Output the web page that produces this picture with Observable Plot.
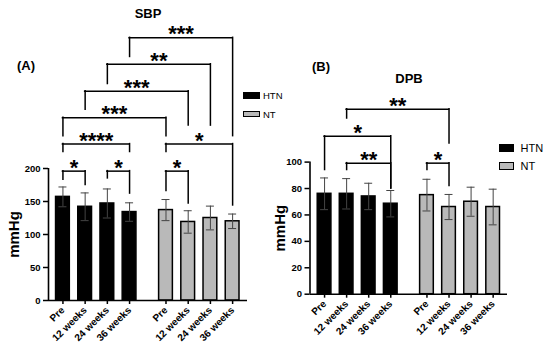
<!DOCTYPE html>
<html><head><meta charset="utf-8">
<script src="https://cdn.jsdelivr.net/npm/d3@7"></script>
<script src="https://cdn.jsdelivr.net/npm/@observablehq/plot@0.6"></script>
<style>
body{margin:0;background:#fff;}
#wrap{position:relative;width:550px;height:357px;overflow:hidden;background:#fff;font-family:"Liberation Sans",Arial,sans-serif;color:#000;}
.abs{position:absolute;white-space:nowrap;line-height:1;color:#000;}
.panel{position:absolute;top:0;}
.lg{position:absolute;display:flex;align-items:center;white-space:nowrap;color:#000;}
.sw{box-sizing:border-box;border:1.5px solid #000;display:inline-block;}
</style></head><body><div id="wrap"></div>
<script>
// ---- data ----
const timepoints = ["Pre", "12 weeks", "24 weeks", "36 weeks"];
const groups = ["HTN", "NT"];
const sbpHTN = [157, 142, 147, 134];
const sbpHTNsd = [15, 21, 22, 14];
const sbpNT = [137, 119, 125, 120];
const sbpNTsd = [16, 17, 18, 11];
const dbpHTN = [76, 76, 74, 68.5];
const dbpHTNsd = [12, 11.5, 10, 10];
const dbpNT = [75, 66, 70, 66];
const dbpNTsd = [12, 9.5, 11, 13.5];
const sbpTicks = [0, 50, 100, 150, 200];
const dbpTicks = [0, 20, 40, 60, 80, 100];
// significance brackets: [groupA, timeA, groupB, timeB, bracket level, leg end A, leg end B, label]
const sbpSig = [
  ["HTN", 0, "HTN", 1, 196, 183, 175, "*"],
  ["HTN", 2, "HTN", 3, 196, 185, 162, "*"],
  ["NT", 0, "NT", 1, 196, 166, 147, "*"],
  ["HTN", 0, "HTN", 3, 237, 225, 225, "****"],
  ["NT", 0, "NT", 3, 237, 225, 144, "*"],
  ["HTN", 0, "NT", 0, 277, 249, 249, "***"],
  ["HTN", 1, "NT", 1, 317, 289, 265, "***"],
  ["HTN", 2, "NT", 2, 358, 328, 265, "**"],
  ["HTN", 3, "NT", 3, 398, 369, 249, "***"]
];
const dbpSig = [
  ["HTN", 1, "NT", 1, 140, 133, 114, "**"],
  ["HTN", 0, "HTN", 3, 119.5, 94, 80, "*"],
  ["HTN", 1, "HTN", 3, 99.2, 94, 80, "**"],
  ["NT", 0, "NT", 1, 99.2, 94, 82, "*"]
];
const colors = {HTN: "#000000", NT: "#b9b9b9"};

// ---- layout helpers ----
const GAP = 4.64;
const pos = (g, i) => i + (g === "NT" ? GAP : 0);
const BW = 0.31, CW = 0.18;

function rowsOf(h, hs, n, ns) {
  const r = [];
  groups.forEach((g, gi) => timepoints.forEach((t, i) => {
    const m = gi === 0 ? h[i] : n[i], s = gi === 0 ? hs[i] : ns[i];
    r.push({group: g, time: t, mean: m, sd: s, pos: pos(g, i)});
  }));
  return r;
}
function sigOf(arr) {
  return arr.map(([ga, ia, gb, ib, y, ya, yb, label]) => ({xa: pos(ga, ia), xb: pos(gb, ib), y, ya, yb, label}));
}

function panel(o) {
  const rows = rowsOf(...o.vals);
  const sig = sigOf(o.sig);
  const [xmin, xmax] = o.xdom;
  const ymax = o.ticks[o.ticks.length - 1];
  const tickPos = rows.map(d => d.pos);
  const labelAt = new Map(rows.map(d => [d.pos, d.time]));
  return Plot.plot({
    width: o.width, height: 357,
    marginLeft: o.ml, marginRight: o.mr, marginTop: o.mt, marginBottom: o.mb,
    x: {type: "linear", domain: [xmin, xmax]},
    y: {domain: [0, ymax]},
    style: {fontFamily: "'Liberation Sans', Arial, sans-serif", fontWeight: "bold", fontSize: "9px", color: "#000", background: "transparent"},
    marks: [
      Plot.rectY(rows.filter(d => d.group === "HTN"), {x1: d => d.pos - BW, x2: d => d.pos + BW, y1: () => 0, y2: "mean", fill: colors.HTN, stroke: "#000", strokeWidth: 1.5}),
      Plot.rectY(rows.filter(d => d.group === "NT"), {x1: d => d.pos - BW, x2: d => d.pos + BW, y1: () => 0, y2: "mean", fill: colors.NT, stroke: "#000", strokeWidth: 1.5}),
      Plot.ruleX(rows, {x: "pos", y1: d => d.mean - d.sd, y2: d => d.mean + d.sd, stroke: "#444", strokeWidth: 1}),
      Plot.ruleY(rows, {y: d => d.mean + d.sd, x1: d => d.pos - CW, x2: d => d.pos + CW, stroke: "#444", strokeWidth: 1}),
      Plot.ruleY(rows, {y: d => d.mean - d.sd, x1: d => d.pos - CW, x2: d => d.pos + CW, stroke: "#444", strokeWidth: 1}),
      // brackets
      Plot.ruleY(sig, {y: "y", x1: "xa", x2: "xb", stroke: "#000", strokeWidth: 1.5, strokeLinecap: "square"}),
      Plot.ruleX(sig, {x: "xa", y1: "ya", y2: "y", stroke: "#000", strokeWidth: 1.5, strokeLinecap: "square"}),
      Plot.ruleX(sig, {x: "xb", y1: "yb", y2: "y", stroke: "#000", strokeWidth: 1.5, strokeLinecap: "square"}),
      Plot.text(sig, {x: d => (d.xa + d.xb) / 2, y: "y", text: "label", fontSize: 22, fontWeight: "bold", lineAnchor: "bottom", dy: 3.5, fill: "#000"}),
      // axes
      Plot.ruleY([0], {x1: () => xmin, x2: () => xmax, stroke: "#000", strokeWidth: 1.6}),
      Plot.ruleX([xmin], {y1: () => 0, y2: () => ymax, stroke: "#000", strokeWidth: 1.6}),
      Plot.axisY({ticks: o.ticks, tickSize: 5, tickPadding: 3, label: null, strokeWidth: 1.5, fontSize: 9.5, fill: "#000"}),
      Plot.axisX({ticks: tickPos, tickFormat: p => labelAt.get(p), tickRotate: -45, tickSize: 4, tickPadding: 4, label: null, strokeWidth: 1.5, fontSize: 10, fill: "#000"}),
      Plot.text(["mmHg"], {x: () => xmin, y: () => ymax / 2, text: d => d, rotate: -90, dx: o.labDx, fontSize: 15, fontWeight: "bold", fill: "#000"})
    ]
  });
}

const wrap = document.getElementById("wrap");

const A = panel({
  vals: [sbpHTN, sbpHTNsd, sbpNT, sbpNTsd], sig: sbpSig, ticks: sbpTicks,
  xdom: [-0.65, 8.31], width: 275, ml: 48, mr: 28, mt: 168, mb: 57, labDx: -34
});
A.classList.add("panel"); A.style.left = "0px";
wrap.appendChild(A);

const B = panel({
  vals: [dbpHTN, dbpHTNsd, dbpNT, dbpNTsd], sig: dbpSig, ticks: dbpTicks,
  xdom: [-0.66, 8.29], width: 280, ml: 39.5, mr: 43, mt: 161.6, mb: 63.3, labDx: -30
});
B.classList.add("panel"); B.style.left = "270px";
wrap.appendChild(B);

// titles
function addText(txt, left, top, size, weight, extra) {
  const d = document.createElement("div");
  d.className = "abs";
  d.textContent = txt;
  Object.assign(d.style, {left: left + "px", top: top + "px", fontSize: size + "px", fontWeight: weight}, extra || {});
  wrap.appendChild(d);
}
addText("SBP", 118, 7, 13, "bold", {width: "60px", textAlign: "center"});
addText("(A)", 17, 59, 13, "bold");
addText("DPB", 379, 72, 13, "bold", {width: "60px", textAlign: "center"});
addText("(B)", 312, 60, 13, "bold");

// legends
function legend(left, centers, sw, sh, gap, fs) {
  groups.forEach((g, i) => {
    const row = document.createElement("div");
    row.className = "lg";
    Object.assign(row.style, {left: left + "px", top: (centers[i] - 8) + "px", height: "16px", fontSize: fs + "px"});
    const s = document.createElement("span");
    s.className = "sw";
    Object.assign(s.style, {width: sw + "px", height: sh + "px", background: colors[g], marginRight: gap + "px"});
    const t = document.createElement("span");
    t.textContent = g;
    row.appendChild(s); row.appendChild(t);
    wrap.appendChild(row);
  });
}
legend(243, [95.5, 114], 17, 6.5, 3, 9.5);
legend(499, [148, 165.5], 15, 8, 6.5, 11);
</script></body></html>
